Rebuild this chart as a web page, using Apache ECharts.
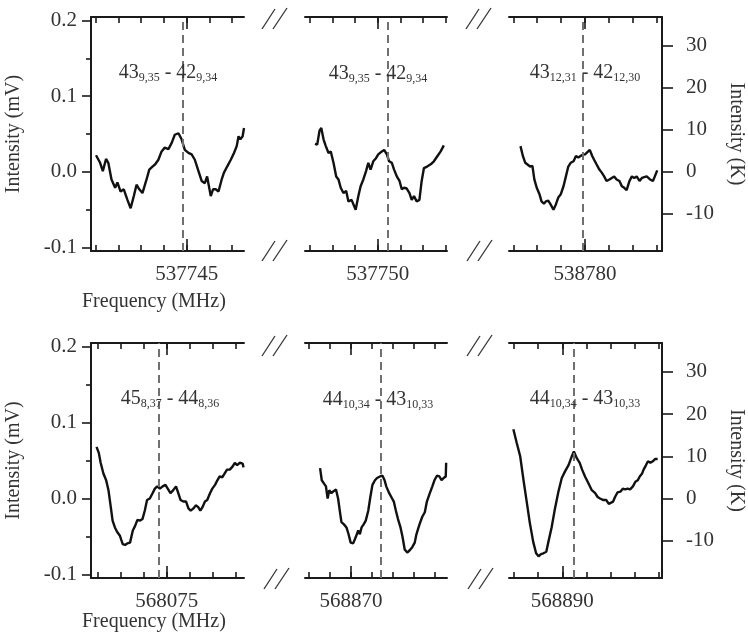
<!DOCTYPE html>
<html><head><meta charset="utf-8">
<script src="https://cdn.jsdelivr.net/npm/echarts@6/dist/echarts.min.js"></script>
<style>html,body{margin:0;padding:0;background:#fff}#c{width:748px;height:641px}</style>
</head><body><div id="c"></div>
<script>
// ---------- data (frequency in MHz, intensity in mV) ----------
const p1Freq = [537743.01,537743.10,537743.16,537743.23,537743.28,537743.35,537743.43,537743.48,537743.55,537743.62,537743.70,537743.77,537743.84,537743.90,537743.96,537744.03,537744.11,537744.18,537744.25,537744.31,537744.38,537744.45,537744.52,537744.60,537744.67,537744.74,537744.82,537744.89,537744.96,537745.04,537745.11,537745.18,537745.26,537745.33,537745.40,537745.45,537745.53,537745.58,537745.64,537745.70,537745.77,537745.82,537745.89,537745.97,537746.04,537746.10,537746.14,537746.18,537746.23,537746.26];
const p1Int = [0.022,0.012,0.001,0.017,0.012,-0.010,-0.021,-0.014,-0.026,-0.023,-0.037,-0.048,-0.032,-0.017,-0.023,-0.028,-0.012,0.003,0.007,0.010,0.016,0.027,0.032,0.030,0.038,0.049,0.051,0.043,0.029,0.025,0.023,0.016,0.001,-0.012,-0.015,-0.006,-0.032,-0.023,-0.023,-0.026,-0.010,-0.001,0.007,0.016,0.025,0.034,0.047,0.043,0.047,0.058];

const p2Freq = [537748.61,537748.66,537748.71,537748.75,537748.80,537748.85,537748.91,537748.96,537749.02,537749.08,537749.13,537749.18,537749.24,537749.30,537749.35,537749.42,537749.46,537749.51,537749.57,537749.62,537749.68,537749.74,537749.79,537749.84,537749.90,537749.96,537750.01,537750.09,537750.14,537750.20,537750.25,537750.31,537750.36,537750.42,537750.48,537750.53,537750.58,537750.64,537750.70,537750.75,537750.80,537750.86,537750.92,537750.97,537751.02,537751.09,537751.17,537751.24,537751.32,537751.39,537751.46];
const p2Int = [0.037,0.036,0.054,0.058,0.043,0.034,0.025,0.027,0.012,-0.006,-0.010,-0.021,-0.028,-0.025,-0.039,-0.037,-0.039,-0.050,-0.032,-0.019,-0.010,0.001,0.012,0.003,0.014,0.018,0.023,0.027,0.029,0.023,0.014,0.012,0.003,-0.006,-0.012,-0.023,-0.021,-0.022,-0.028,-0.037,-0.032,-0.039,-0.037,-0.012,0.005,0.007,0.010,0.014,0.021,0.027,0.035];

const p3Freq = [538778.65,538778.70,538778.75,538778.79,538778.85,538778.90,538778.94,538778.99,538779.05,538779.09,538779.14,538779.18,538779.23,538779.28,538779.34,538779.39,538779.44,538779.49,538779.55,538779.60,538779.65,538779.70,538779.76,538779.81,538779.86,538779.93,538780.00,538780.05,538780.10,538780.15,538780.19,538780.24,538780.30,538780.35,538780.40,538780.45,538780.51,538780.56,538780.61,538780.66,538780.72,538780.77,538780.82,538780.87,538780.93,538780.98,538781.03,538781.08,538781.14,538781.19,538781.23,538781.29,538781.36,538781.42,538781.46,538781.51];
const p3Int = [0.034,0.021,0.012,0.011,0.007,0.008,-0.010,-0.021,-0.030,-0.039,-0.042,-0.039,-0.038,-0.043,-0.050,-0.043,-0.034,-0.030,-0.019,-0.006,0.007,0.012,0.014,0.021,0.019,0.022,0.023,0.026,0.029,0.021,0.016,0.010,0.003,-0.001,-0.006,-0.012,-0.010,-0.008,-0.006,-0.010,-0.012,-0.019,-0.021,-0.024,-0.012,-0.006,-0.008,-0.006,-0.012,-0.008,-0.008,-0.006,-0.010,-0.012,-0.006,0.002];

const p4Freq = [568073.47,568073.52,568073.56,568073.62,568073.68,568073.73,568073.78,568073.82,568073.87,568073.92,568073.98,568074.04,568074.09,568074.14,568074.20,568074.26,568074.31,568074.36,568074.42,568074.47,568074.52,568074.57,568074.63,568074.69,568074.74,568074.79,568074.85,568074.91,568074.97,568075.02,568075.08,568075.14,568075.20,568075.25,568075.30,568075.36,568075.42,568075.47,568075.52,568075.58,568075.63,568075.68,568075.73,568075.78,568075.83,568075.88,568075.94,568075.99,568076.05,568076.10,568076.15,568076.21,568076.26,568076.31,568076.37,568076.43,568076.48,568076.53,568076.59,568076.65,568076.67];
const p4Int = [0.068,0.060,0.047,0.033,0.024,0.011,-0.011,-0.029,-0.038,-0.044,-0.049,-0.060,-0.061,-0.059,-0.058,-0.042,-0.036,-0.028,-0.029,-0.027,-0.016,-0.002,0.000,0.007,0.013,0.016,0.013,0.016,0.018,0.013,0.007,0.011,0.016,0.007,-0.002,-0.004,-0.004,-0.013,-0.016,-0.013,-0.009,-0.011,-0.016,-0.011,-0.004,-0.002,0.007,0.013,0.018,0.024,0.029,0.028,0.033,0.038,0.038,0.042,0.047,0.044,0.047,0.046,0.041];

const p5Freq = [568869.26,568869.30,568869.35,568869.40,568869.44,568869.48,568869.53,568869.59,568869.64,568869.69,568869.73,568869.77,568869.83,568869.89,568869.94,568869.99,568870.05,568870.11,568870.17,568870.21,568870.25,568870.30,568870.35,568870.41,568870.46,568870.51,568870.57,568870.62,568870.69,568870.75,568870.80,568870.84,568870.91,568870.96,568871.02,568871.07,568871.12,568871.18,568871.23,568871.28,568871.34,568871.40,568871.46,568871.52,568871.56,568871.60,568871.64,568871.70,568871.76,568871.81,568871.88,568871.94,568871.99,568872.05,568872.11,568872.16,568872.21,568872.26,568872.27];
const p5Int = [0.040,0.024,0.020,0.016,0.000,0.011,0.007,0.010,0.012,0.000,-0.016,-0.031,-0.034,-0.038,-0.047,-0.058,-0.059,-0.051,-0.042,-0.047,-0.038,-0.034,-0.029,-0.016,0.002,0.018,0.024,0.027,0.029,0.030,0.024,0.016,0.007,0.002,-0.004,-0.016,-0.027,-0.038,-0.051,-0.067,-0.071,-0.068,-0.064,-0.058,-0.047,-0.040,-0.033,-0.024,-0.018,-0.004,0.007,0.016,0.024,0.030,0.029,0.024,0.027,0.029,0.047];

const p6Freq = [568888.99,568889.06,568889.13,568889.20,568889.27,568889.33,568889.40,568889.46,568889.51,568889.56,568889.61,568889.67,568889.71,568889.78,568889.85,568889.92,568889.99,568890.06,568890.13,568890.20,568890.24,568890.30,568890.36,568890.41,568890.47,568890.54,568890.61,568890.68,568890.73,568890.78,568890.85,568890.91,568890.96,568891.00,568891.05,568891.09,568891.14,568891.20,568891.25,568891.30,568891.35,568891.40,568891.46,568891.51,568891.56,568891.60,568891.65,568891.68,568891.73,568891.77,568891.82,568891.87,568891.92,568891.97];
const p6Int = [0.091,0.073,0.056,0.024,-0.006,-0.032,-0.057,-0.072,-0.076,-0.073,-0.072,-0.070,-0.058,-0.038,-0.013,0.009,0.027,0.036,0.044,0.056,0.062,0.053,0.047,0.038,0.029,0.020,0.011,0.007,0.002,0.000,-0.002,-0.002,-0.007,-0.009,-0.004,0.002,0.008,0.009,0.013,0.012,0.013,0.012,0.016,0.022,0.024,0.029,0.033,0.038,0.044,0.049,0.047,0.049,0.052,0.052];

// transition rest frequencies (dashed lines)
const transFreq = [537744.91, 537750.22, 538779.96, 568074.83, 568870.71, 568890.24];
// labelled frequency ticks
const majorTicks = [537745, 537750, 538780, 568075, 568870, 568890];
// axis ranges per panel
const xMin = [537742.90, 537748.39, 538778.41, 568073.35, 568868.90, 568888.90];
const xMax = [537746.26, 537751.53, 538781.61, 568076.68, 568872.29, 568892.06];
// transition labels: upper J, upper subscript, lower J, lower subscript
const upperJ = ['43','43','43','45','44','44'];
const upperK = ['9,35','9,35','12,31','8,37','10,34','10,34'];
const lowerJ = ['42','42','42','44','43','43'];
const lowerK = ['9,34','9,34','12,30','8,36','10,33','10,33'];
// intensity tick labels
const mvTicks = [-0.1, 0.0, 0.1, 0.2];
const mvMinorTicks = [-0.05, 0.05, 0.15];
const kTicks = [-10, 0, 10, 20, 30];
const yMin = -0.1045, yMax = 0.2045, kPerMv = 180;

// ---------- layout ----------
const colLeft = [91, 305, 509], colWidth = [153, 142, 153];
const rowTop = [17, 343], rowHeight = [234, 235];
const labelX = [168, 378, 585, 170, 378, 585];
const labelY = [73, 74, 73, 399, 400, 399];
const FONT = '"Liberation Serif","Times New Roman",serif';
const AX = '#1a1a1a', TXT = '#333';

const freqs = [p1Freq, p2Freq, p3Freq, p4Freq, p5Freq, p6Freq];
const ints = [p1Int, p2Int, p3Int, p4Int, p5Int, p6Int];

const grids = [], xAxes = [], yAxes = [], series = [], graphics = [];
for (let i = 0; i < 6; i++) {
  const r = Math.floor(i / 3), c = i % 3;
  grids.push({left: colLeft[c], top: rowTop[r], width: colWidth[c], height: rowHeight[r], outerBoundsMode: 'none', containLabel: false});
  const minor = [];
  for (let v = Math.ceil(xMin[i] * 2) / 2; v <= xMax[i] + 1e-9; v += 0.5) minor.push(v);
  const base = {type: 'value', gridIndex: i, min: xMin[i], max: xMax[i], splitLine: {show: false},
    axisLine: {show: false, onZero: false}, axisLabel: {show: false}, axisTick: {show: false}};
  const xBase = xAxes.length;
  ['bottom', 'top'].forEach(pos => {
    xAxes.push(Object.assign({}, base, {position: pos,
      axisLine: {show: true, onZero: false, lineStyle: {color: AX, width: 2}},
      axisTick: {show: true, inside: true, length: 6, customValues: minor, lineStyle: {color: AX, width: 1.6}}}));
    xAxes.push(Object.assign({}, base, {position: pos,
      axisTick: {show: true, inside: true, length: 12, customValues: [majorTicks[i]], lineStyle: {color: AX, width: 1.6}},
      axisLabel: pos === 'bottom' ? {show: true, customValues: [majorTicks[i]], formatter: v => String(v), margin: 13,
        color: TXT, fontSize: 21, fontFamily: FONT} : {show: false}}));
  });
  const yIdx = yAxes.length;
  const showLeft = c === 0;
  yAxes.push({type: 'value', gridIndex: i, min: yMin, max: yMax, position: 'left', show: showLeft,
    splitLine: {show: false},
    axisLine: {show: true, onZero: false, lineStyle: {color: AX, width: 2}},
    axisTick: {show: true, length: 9, customValues: mvTicks, lineStyle: {color: AX, width: 1.6}},
    axisLabel: {show: true, customValues: mvTicks, formatter: v => Number(v).toFixed(1), margin: 14, color: TXT, fontSize: 21, fontFamily: FONT},
    name: showLeft ? 'Intensity (mV)' : '', nameLocation: 'middle', nameRotate: 90, nameGap: 67, nameMoveOverlap: false,
    nameTextStyle: {color: TXT, fontSize: 20, fontFamily: FONT}});
  if (showLeft) {
    yAxes.push({type: 'value', gridIndex: i, min: yMin, max: yMax, position: 'left', splitLine: {show: false},
      axisLine: {show: false, onZero: false}, axisLabel: {show: false},
      axisTick: {show: true, length: 5, customValues: mvMinorTicks, lineStyle: {color: AX, width: 1.6}}});
  }
  if (c === 2) {
    yAxes.push({type: 'value', gridIndex: i, min: yMin * kPerMv, max: yMax * kPerMv, position: 'right', splitLine: {show: false},
      axisLine: {show: true, onZero: false, lineStyle: {color: AX, width: 2}},
      axisTick: {show: true, length: 11, customValues: kTicks, lineStyle: {color: AX, width: 1.6}},
      axisLabel: {show: true, customValues: kTicks, formatter: v => String(v), margin: 24, color: TXT, fontSize: 21, fontFamily: FONT},
      name: 'Intensity (K)', nameLocation: 'middle', nameRotate: -90, nameGap: 64, nameMoveOverlap: false,
      nameTextStyle: {color: TXT, fontSize: 20, fontFamily: FONT}});
  }
  series.push({type: 'line', xAxisIndex: xBase, yAxisIndex: yIdx, showSymbol: false, symbol: 'none',
    data: freqs[i].map((f, k) => [f, ints[i][k]]),
    lineStyle: {color: '#111', width: 2.4}, z: 3,
    markLine: {silent: true, symbol: ['none', 'none'], label: {show: false},
      lineStyle: {color: '#707070', type: [8, 5], width: 2},
      data: [{xAxis: transFreq[i]}]}});
  graphics.push({type: 'text', x: labelX[i], y: labelY[i], z: 100,
    style: {text: '{m|' + upperJ[i] + '}{s|' + upperK[i] + '}{m| - ' + lowerJ[i] + '}{s|' + lowerK[i] + '}',
      align: 'center', verticalAlign: 'middle', fill: TXT, font: '20px ' + FONT,
      rich: {m: {fontSize: 20, fontFamily: FONT, fill: TXT}, s: {fontSize: 12, fontFamily: FONT, fill: TXT, padding: [10, 0, 0, 0]}}}});
}
// axis title under first column
[302, 622].forEach(y => graphics.push({type: 'text', x: 82, y: y,
  style: {text: 'Frequency (MHz)', font: '20px ' + FONT, fill: TXT, align: 'left', verticalAlign: 'middle'}}));
// axis-break marks
[[275, 19], [479, 19], [275, 251], [480, 251], [275, 346], [480, 346], [277, 579], [481, 579]].forEach(([cx, cy]) => {
  graphics.push({type: 'line', shape: {x1: cx - 13, y1: cy + 10, x2: cx, y2: cy - 10}, style: {stroke: '#333', lineWidth: 1.3}});
  graphics.push({type: 'line', shape: {x1: cx - 2, y1: cy + 10, x2: cx + 12, y2: cy - 11}, style: {stroke: '#333', lineWidth: 1.3}});
});

const chart = echarts.init(document.getElementById('c'), null, {renderer: 'canvas'});
chart.setOption({animation: false, backgroundColor: '#fff', grid: grids, xAxis: xAxes, yAxis: yAxes, series: series, graphic: graphics});
</script>
</body></html>
